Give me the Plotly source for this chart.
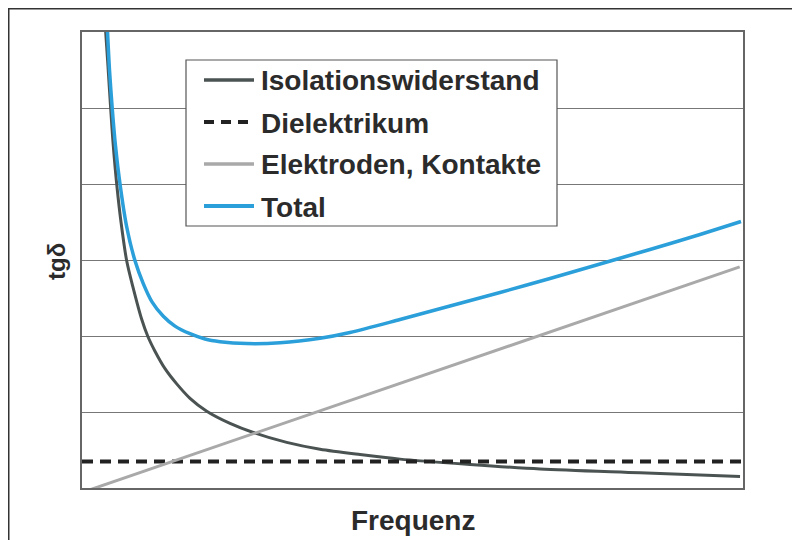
import plotly.graph_objects as go

# ---- data (x = Frequenz 0..100, y = tgδ 0..6) ----
names = ["Isolationswiderstand", "Dielektrikum", "Elektroden, Kontakte", "Total"]

iso_x = [3.56, 3.93, 4.34, 4.69, 5.25, 5.90, 6.76, 7.72, 9.03, 9.98, 11.04, 12.56, 14.33,
         16.34, 18.87, 22.39, 25.92, 30.97, 36.01, 42.06, 48.11, 58.70, 69.29, 84.42, 99.55]
iso_y = [6.03, 5.55, 4.99, 4.55, 4.0, 3.50, 2.99, 2.64, 2.22, 1.99, 1.80, 1.57, 1.37,
         1.18, 1.01, 0.85, 0.73, 0.60, 0.51, 0.44, 0.38, 0.31, 0.25, 0.20, 0.15]

diel_x = [0, 100]
diel_y = [0.35, 0.35]

elek_x = [0.3, 99.5]
elek_y = [-0.05, 2.91]

tot_x = [3.83, 4.16, 4.58, 5.07, 5.75, 6.73, 8.02, 9.27, 10.59, 12.30, 14.07, 16.34, 18.61,
         20.88, 24.92, 29.95, 36.01, 40.54, 48.11, 55.67, 63.24, 70.80, 78.37, 85.93, 93.50, 99.70]
tot_y = [6.06, 5.50, 4.99, 4.50, 4.0, 3.45, 2.99, 2.69, 2.45, 2.26, 2.13, 2.03, 1.96,
         1.925, 1.90, 1.91, 1.97, 2.046, 2.217, 2.395, 2.572, 2.757, 2.947, 3.138, 3.336, 3.507]

x_title = "Frequenz"
y_title = "tgδ"

FONT = "Liberation Sans, Arial, sans-serif"
TXT = "#2b2b2b"
colors = ["#4b5352", "#222222", "#a9a9a9", "#2b9fd9"]
widths = [3, 4, 3, 3.5]
dashes = ["solid", "11px,7px", "solid", "solid"]

fig = go.Figure()
series = [(iso_x, iso_y, "spline"), (diel_x, diel_y, "linear"),
          (elek_x, elek_y, "linear"), (tot_x, tot_y, "spline")]
for i, (xs, ys, shp) in enumerate(series):
    fig.add_trace(go.Scatter(x=xs, y=ys, name=names[i], mode="lines", showlegend=False,
                             line=dict(color=colors[i], width=widths[i], dash=dashes[i],
                                       shape=shp, smoothing=0.8)))

# page has an 8px body margin -> figure sits at page (8, 8)
W, H = 792, 532
L, R, T, B = 74, 57, 24, 52
PL, PB = 82, 488          # plot area left / bottom in page pixels
pw, ph = W - L - R, H - T - B

def px(xp):
    return (xp - PL) / pw

def py(yp):
    return (PB - yp) / ph

shapes = [
    dict(type="line", xref="paper", yref="paper", x0=px(8.5), x1=px(8.5), y0=py(8), y1=py(545),
         line=dict(color="#333333", width=2)),
    dict(type="line", xref="paper", yref="paper", x0=px(8), x1=px(805), y0=py(8.5), y1=py(8.5),
         line=dict(color="#333333", width=2)),
    # legend box
    dict(type="rect", xref="paper", yref="paper", x0=px(186), x1=px(557), y0=py(60), y1=py(226),
         fillcolor="white", line=dict(color="#555555", width=1.2), layer="above"),
]
annotations = [
    dict(text=x_title, xref="paper", yref="paper", x=0.5, y=py(520),
         xanchor="center", yanchor="middle", showarrow=False,
         font=dict(family=FONT, size=28, color=TXT, weight="bold")),
    dict(text=y_title, xref="paper", yref="paper", x=px(56), y=py(262),
         xanchor="center", yanchor="middle", showarrow=False, textangle=-90,
         font=dict(family=FONT, size=24, color=TXT, weight="bold")),
]
rows = [80, 122, 164, 206]
for i, nm in enumerate(names):
    shapes.append(dict(type="line", xref="paper", yref="paper", x0=px(204), x1=px(254),
                       y0=py(rows[i]), y1=py(rows[i]), layer="above",
                       line=dict(color=colors[i], width=widths[i] + (0.5 if i != 1 else 0),
                                 dash="10px,7px" if i == 1 else "solid")))
    annotations.append(dict(text=nm, xref="paper", yref="paper", x=px(259), y=py(rows[i] + 1),
                            xanchor="left", yanchor="middle", showarrow=False,
                            font=dict(family=FONT, size=28, color=TXT, weight="bold")))

fig.update_layout(
    width=W, height=H,
    margin=dict(l=L, r=R, t=T, b=B),
    paper_bgcolor="white", plot_bgcolor="white",
    font=dict(family=FONT, color=TXT),
    showlegend=False,
    xaxis=dict(range=[0, 100], showgrid=False, showticklabels=False, ticks="",
               zeroline=False, showline=True, linecolor="#666666", linewidth=1.5, mirror=True),
    yaxis=dict(range=[0, 6], dtick=1, showgrid=True, gridcolor="#777777", gridwidth=1,
               showticklabels=False, ticks="", zeroline=False,
               showline=True, linecolor="#666666", linewidth=1.5, mirror=True),
    annotations=annotations,
    shapes=shapes,
)

fig.write_html("out.html")
